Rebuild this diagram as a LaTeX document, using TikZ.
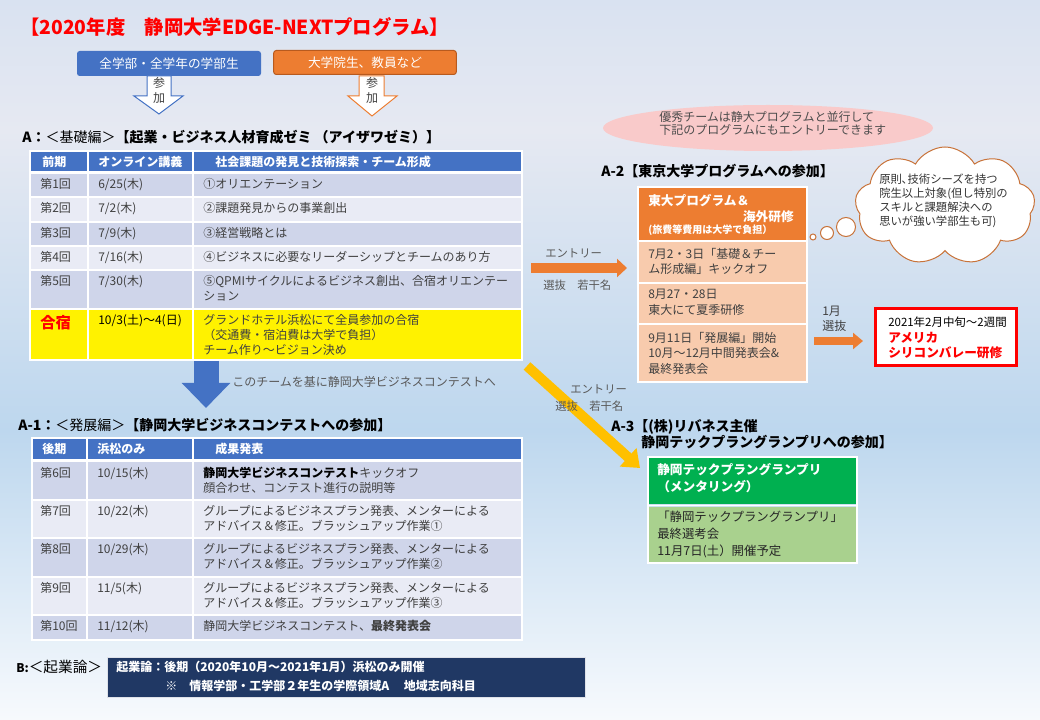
\documentclass[tikz,border=0pt]{standalone}
\usepackage{fontspec}
\setmainfont{Noto Sans CJK JP}
\usetikzlibrary{arrows.meta,shapes.geometric,shapes.symbols}
\definecolor{fondoA}{HTML}{D9E2F1}
\definecolor{fondoB}{HTML}{E6E9F2}
\definecolor{fondoC}{HTML}{BDD7EE}
\definecolor{fondoD}{HTML}{F7FAFD}
\definecolor{azul}{HTML}{4472C4}
\definecolor{filaosc}{HTML}{CFD5EA}
\definecolor{filaclara}{HTML}{E9EBF5}
\definecolor{naranja}{HTML}{ED7D31}
\definecolor{naranjaosc}{HTML}{B85A1E}
\definecolor{naranjaclara}{HTML}{F8CBAD}
\definecolor{verde}{HTML}{00B050}
\definecolor{verdeclaro}{HTML}{A9D18E}
\definecolor{marino}{HTML}{203864}
\definecolor{oro}{HTML}{FFC000}
\definecolor{rosa}{HTML}{F9CACA}
\definecolor{marron}{HTML}{C8733A}
\definecolor{gris}{HTML}{404040}
\begin{document}
\begin{tikzpicture}[x=0.75pt,y=-0.75pt]
\tikzstyle{every node}=[inner sep=0pt, text=gris, font=\fontsize{9pt}{11pt}\selectfont]% letra base
\tikzstyle{celda}=[anchor=north west, align=left]% texto de las tablas
\tikzstyle{cabecera}=[anchor=west, text=white, font=\bfseries\fontsize{9pt}{11pt}\selectfont]
\tikzstyle{titulo}=[anchor=west, text=black, font=\bfseries\fontsize{10.5pt}{13pt}\selectfont]
\tikzstyle{rejilla}=[white, line width=1.2pt]% lineas blancas de la tabla
\tikzstyle{etiqueta}=[anchor=west, text=black!65, font=\fontsize{8.5pt}{10pt}\selectfont]
\tikzstyle{flecha}=[line width=7.5pt, -{Triangle[length=7.5pt,width=13.5pt]}]
\tikzstyle{hueca}=[line width=0.75pt, fill=white]% flechas huecas
\useasboundingbox (0,0) rectangle (1040,720);
% fondo degradado
\shade[top color=fondoA, bottom color=fondoB] (0,0) rectangle (1040,131);
\shade[top color=fondoB, bottom color=fondoC] (0,130) rectangle (1040,431);
\shade[top color=fondoC, bottom color=fondoD] (0,430) rectangle (1040,720);
\node[anchor=west, text=red, font=\bfseries\fontsize{14.5pt}{18pt}\selectfont] (titulo) at (20,27) {【2020年度　静岡大学EDGE-NEXTプログラム】};
% participantes
\node[fill=azul, rounded corners=2pt, minimum width=138pt, minimum height=18.75pt, text=white, font=\fontsize{9.5pt}{11pt}\selectfont] (estudiantes) at (169,63.5) {全学部・全学年の学部生};
\node[fill=naranja, draw=naranjaosc, line width=0.75pt, rounded corners=2pt, minimum width=137pt, minimum height=18pt, text=white, font=\fontsize{9.5pt}{11pt}\selectfont] (posgrado) at (365,62.5) {大学院生、教員など};
\draw[hueca, draw=azul] (147,76) -- (171,76) -- (171,96) -- (183,96) -- (159,114) -- (134,96) -- (147,96) -- cycle;
\node[align=center, font=\fontsize{9pt}{11.25pt}\selectfont] (sanka1) at (159,90) {参\\加};
\draw[hueca, draw=naranja] (359,76) -- (384,76) -- (384,96) -- (397,96) -- (372,116) -- (348,96) -- (359,96) -- cycle;
\node[align=center, font=\fontsize{9pt}{11.25pt}\selectfont] (sanka2) at (372,90) {参\\加};
% tabla A
\node[titulo] (tituloA) at (22,137) {A：{\mdseries ＜基礎編＞}【起業・ビジネス人材育成ゼミ （アイザワゼミ）】};
\fill[azul] (30,151) rectangle (522,172);
\node[cabecera] (hA1) at (42,161.5) {前期};
\node[cabecera] (hA2) at (98,161.5) {オンライン講義};
\node[cabecera] (hA3) at (215,161.5) {社会課題の発見と技術探索・チーム形成};
\foreach \y/\h/\c/\a/\b/\t [count=\i] in {
 173/24/filaosc/第1回/{6/25(木)}/①オリエンテーション,
 197/25/filaclara/第2回/{7/2(木)}/②課題発見からの事業創出,
 222/24/filaosc/第3回/{7/9(木)}/③経営戦略とは,
 246/24/filaclara/第4回/{7/16(木)}/④ビジネスに必要なリーダーシップとチームのあり方,
 270/39/filaosc/第5回/{7/30(木)}/{⑤QPMIサイクルによるビジネス創出、合宿オリエンテー\\ション}}
{
 \fill[\c] (30,\y) rectangle (522,\y+\h);
 \node[celda] (a\i n) at (40,\y+5) {\a};
 \node[celda] (a\i f) at (98,\y+5) {\b};
 \node[celda] (a\i t) at (203,\y+5) {\t};
}
\fill[yellow] (30,309) rectangle (522,360);
\node[celda, text=red, font=\bfseries\fontsize{11.5pt}{14pt}\selectfont] (gasshuku) at (40,315) {合宿};
\node[celda, text=black] (gasshukufecha) at (98,314) {10/3(土)～4(日)};
\node[celda, font=\fontsize{9pt}{11.25pt}\selectfont] (gasshukutxt) at (203,314) {グランドホテル浜松にて全員参加の合宿\\（交通費・宿泊費は大学で負担）\\チーム作り～ビジョン決め};
\draw[rejilla] (30,151) rectangle (522,360);
\foreach \x in {88,193} \draw[rejilla] (\x,151) -- (\x,360);
\foreach \y in {197,222,246,270,309} \draw[rejilla] (30,\y) -- (522,\y);
\draw[white, line width=2.25pt] (30,173) -- (522,173);
% flecha azul hacia A-1
\coordinate (azul1) at (206,361);
\coordinate (azul2) at (206,408);
\draw[azul, line width=18.75pt, -{Triangle[length=18.75pt,width=35.25pt]}] (azul1) -- (azul2);
\node[etiqueta, font=\fontsize{9pt}{11pt}\selectfont] (base) at (232,382) {このチームを基に静岡大学ビジネスコンテストへ};
% tabla A-1
\node[titulo] (tituloA1) at (18,425) {A-1：{\mdseries ＜発展編＞}【静岡大学ビジネスコンテストへの参加】};
\fill[azul] (32,438) rectangle (522,460);
\node[cabecera] (hB1) at (42,449) {後期};
\node[cabecera] (hB2) at (97,449) {浜松のみ};
\node[cabecera] (hB3) at (215,449) {成果発表};
\foreach \y/\h/\c/\a/\b/\t [count=\i] in {
 462/38/filaosc/第6回/{10/15(木)}/{{\bfseries\color{black}静岡大学ビジネスコンテスト}キックオフ\\顔合わせ、コンテスト進行の説明等},
 500/38/filaclara/第7回/{10/22(木)}/{グループによるビジネスプラン発表、メンターによる\\アドバイス＆修正。ブラッシュアップ作業①},
 538/39/filaosc/第8回/{10/29(木)}/{グループによるビジネスプラン発表、メンターによる\\アドバイス＆修正。ブラッシュアップ作業②},
 577/38/filaclara/第9回/{11/5(木)}/{グループによるビジネスプラン発表、メンターによる\\アドバイス＆修正。ブラッシュアップ作業③},
 615/25/filaosc/第10回/{11/12(木)}/{静岡大学ビジネスコンテスト、{\bfseries 最終発表会}}}
{
 \fill[\c] (32,\y) rectangle (522,\y+\h);
 \node[celda] (b\i n) at (40,\y+5) {\a};
 \node[celda] (b\i f) at (97,\y+5) {\b};
 \node[celda] (b\i t) at (203,\y+5) {\t};
}
\draw[rejilla] (32,438) rectangle (522,640);
\foreach \x in {87,193} \draw[rejilla] (\x,438) -- (\x,640);
\foreach \y in {500,538,577,615} \draw[rejilla] (32,\y) -- (522,\y);
\draw[white, line width=2.25pt] (32,461) -- (522,461);
% B
\node[anchor=west, text=black, font=\fontsize{11pt}{13pt}\selectfont] (etiquetaB) at (16,667) {{\bfseries\fontsize{9pt}{10pt}\selectfont B:}＜起業論＞};
\fill[marino, draw=white!85!marino, line width=0.75pt] (107,657) rectangle (585,697);
\node[anchor=west, text=white, font=\bfseries\fontsize{9pt}{11pt}\selectfont] (kigyo1) at (116,667) {起業論：後期（2020年10月～2021年1月）浜松のみ開催};
\node[anchor=west, text=white, font=\bfseries\fontsize{9pt}{11pt}\selectfont] (kigyo2) at (165,686) {※　情報学部・工学部２年生の学際領域A　 地域志向科目};
% lado derecho
\node[ellipse, fill=rosa, minimum width=247.5pt, minimum height=34.5pt] (elipse) at (768,128) {};
\node[celda, text=black!70, font=\fontsize{9pt}{9.75pt}\selectfont] (elipsetxt) at (659,111) {優秀チームは静大プログラムと並行して\\下記のプログラムにもエントリーできます};
\node[titulo] (tituloA2) at (601,171) {A-2【東京大学プログラムへの参加】};
\fill[naranja] (638,187) rectangle (807,240);
\fill[naranjaclara] (638,242) rectangle (807,382);
\draw[rejilla] (638,187) rectangle (807,382);
\foreach \y in {241,283,324} \draw[rejilla] (638,\y) -- (807,\y);
\node[celda, text=white, font=\bfseries\fontsize{9.5pt}{11pt}\selectfont] (todai1) at (648,194) {東大プログラム＆};
\node[anchor=north east, text=white, font=\bfseries\fontsize{9.5pt}{11pt}\selectfont] (todai2) at (794,210) {海外研修};
\node[celda, text=white, font=\bfseries\fontsize{7.5pt}{9pt}\selectfont] (todai3) at (648,225) {(旅費等費用は大学で負担）};
\node[celda, font=\fontsize{9pt}{11.6pt}\selectfont] (julio) at (648,248) {7月2・3日「基礎＆チー\\ム形成編」キックオフ};
\node[celda, font=\fontsize{9pt}{11.6pt}\selectfont] (agosto) at (648,289) {8月27・28日\\東大にて夏季研修};
\node[celda, font=\fontsize{9pt}{11.6pt}\selectfont] (septiembre) at (648,332) {9月11日「発展編」開始\\10月～12月中間発表会\&\\最終発表会};
\coordinate (entrada1) at (531,268);
\coordinate (entrada2) at (627,268);
\draw[flecha, naranja] (entrada1) -- (entrada2);
\node[etiqueta] (entry1) at (545,253) {エントリー};
\node[etiqueta] (sel1) at (543,285) {選抜　若干名};
% Silicon Valley
\coordinate (enero1) at (814,341);
\coordinate (enero2) at (863,341);
\draw[naranja, line width=6pt, -{Triangle[length=7.5pt,width=12pt]}] (enero1) -- (enero2);
\node[celda, font=\fontsize{9pt}{11.25pt}\selectfont] (enero) at (822,306) {1月\\選抜};
\draw[red, line width=2.25pt, fill=white] (875,309) rectangle (1016,366);
\node[anchor=west, text=black, font=\fontsize{8.6pt}{10pt}\selectfont] (rojo1) at (888,322) {2021年2月中旬～2週間};
\node[anchor=west, text=red, font=\bfseries\fontsize{9.5pt}{11pt}\selectfont] (rojo2) at (888,338) {アメリカ};
\node[anchor=west, text=red, font=\bfseries\fontsize{9.5pt}{11pt}\selectfont] (rojo3) at (888,353) {シリコンバレー研修};
% nube
\node[cloud, cloud puffs=9, cloud puff arc=120, aspect=1.5, draw=marron, fill=white, line width=0.75pt, minimum width=135pt, minimum height=88.5pt] (nube) at (945,206) {};
\node[circle, draw=marron, fill=white, line width=0.75pt, minimum size=4.5pt] (burbuja1) at (813,237) {};
\node[circle, draw=marron, fill=white, line width=0.75pt, minimum size=9.75pt] (burbuja2) at (827,233) {};
\node[circle, draw=marron, fill=white, line width=0.75pt, minimum size=14.25pt] (burbuja3) at (846,227) {};
\node[celda, text=black!80, font=\fontsize{8.5pt}{10.5pt}\selectfont] (nubetxt) at (879,174) {原則､技術シーズを持つ\\院生以上対象(但し特別の\\スキルと課題解決への\\思いが強い学部生も可)};
% A-3
\coordinate (oro1) at (527,366);
\coordinate (oro2) at (640,468);
\draw[oro, line width=7.5pt, -{Triangle[length=12pt,width=18pt]}] (oro1) -- (oro2);
\node[etiqueta] (entry2) at (570,389) {エントリー};
\node[etiqueta] (sel2) at (555,406) {選抜　若干名};
\node[titulo] (tituloA3) at (611,427) {A-3【(株)リバネス主催};
\node[titulo] (tituloA3b) at (641,442) {静岡テックプラングランプリへの参加】};
\fill[verde] (648,457) rectangle (857,504);
\fill[verdeclaro] (648,507) rectangle (857,563);
\draw[rejilla] (648,457) rectangle (857,563);
\draw[rejilla] (648,505.5) -- (857,505.5);
\node[celda, text=white, font=\bfseries\fontsize{9.5pt}{12.75pt}\selectfont] (tech1) at (657,463) {静岡テックプラングランプリ\\（メンタリング）};
\node[celda, text=black!85, font=\fontsize{9.3pt}{12.5pt}\selectfont] (tech2) at (657,511) {「静岡テックプラングランプリ」\\最終選考会\\11月7日(土）開催予定};
\end{tikzpicture}
\end{document}
